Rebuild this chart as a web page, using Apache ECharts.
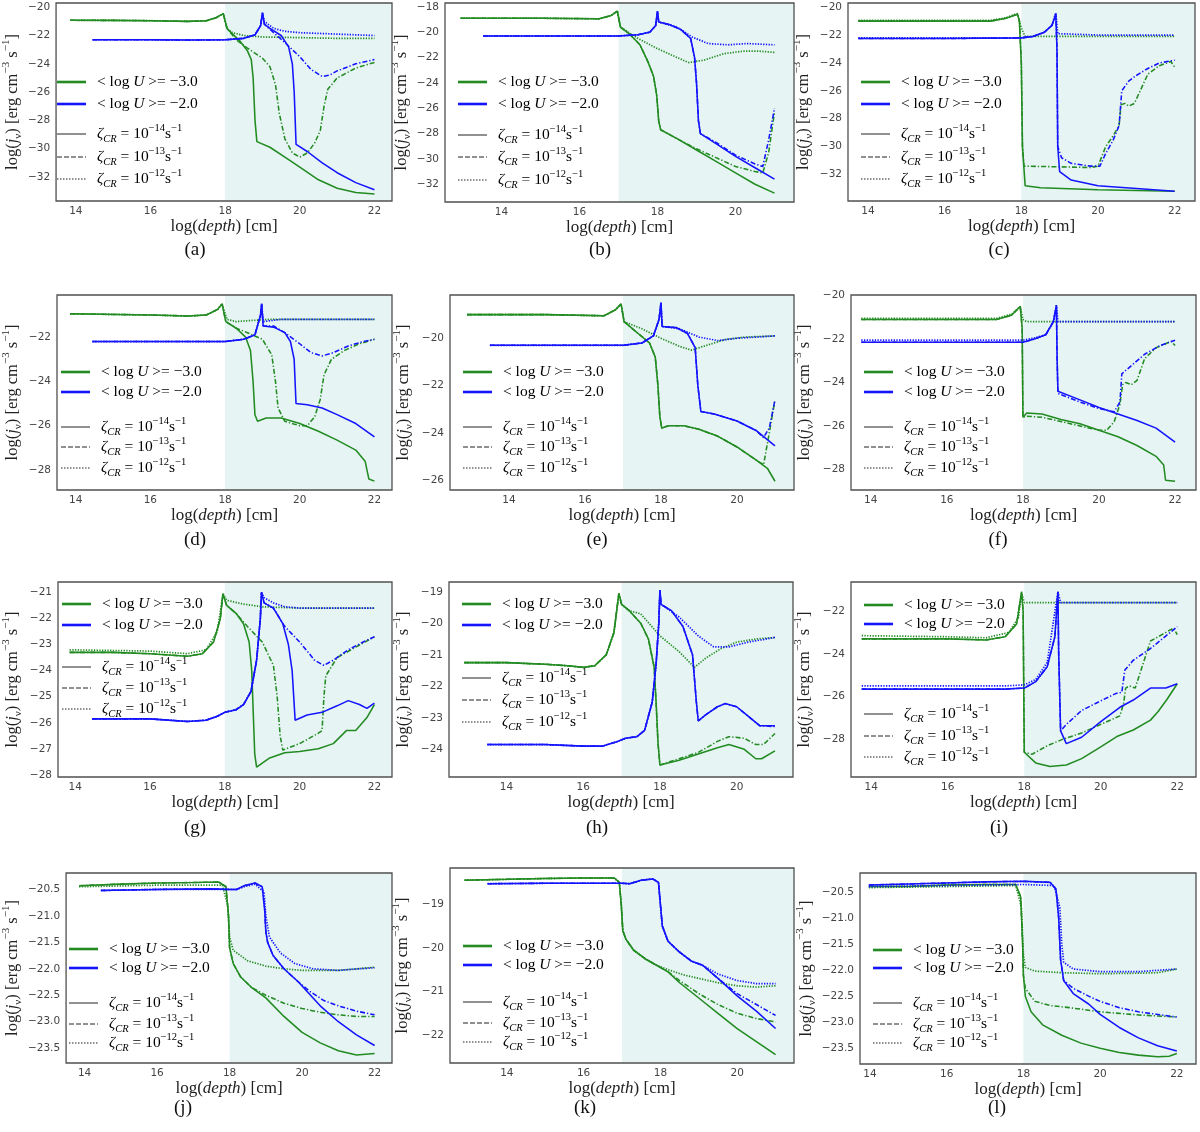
<!DOCTYPE html>
<html><head><meta charset="utf-8">
<script src="https://cdn.jsdelivr.net/npm/echarts@6/dist/echarts.min.js"></script>
<style>html,body{margin:0;padding:0;background:#fff}#c{width:1200px;height:1132px}</style>
</head><body><div id="c"></div><script>
// ---------------- DATA (log depth, log j_nu) ----------------
// panel (a)
const a_green_pre = [[13.85,-20.92],[15,-20.93],[16,-20.95],[17,-21.0],[17.5,-20.95],[17.75,-20.75],[17.95,-20.45],[18.05,-21.5]];
const a_green_solid = a_green_pre.concat([[18.2,-21.9],[18.4,-22.4],[18.6,-23.1],[18.7,-23.7],[18.75,-25],[18.8,-28],[18.85,-29.5],[19.2,-29.9],[19.6,-30.6],[20,-31.3],[20.5,-32.2],[21,-32.8],[21.5,-33.1],[22,-33.2]]);
const a_green_dashdot = a_green_pre.concat([[18.3,-22.3],[18.6,-22.9],[19,-23.6],[19.2,-24.2],[19.35,-25.5],[19.45,-27.5],[19.6,-29.3],[19.8,-30.3],[20,-30.6],[20.2,-30.3],[20.4,-29.6],[20.55,-28.7],[20.65,-27],[20.75,-25.8],[21,-25],[21.5,-24.3],[22,-23.9]]);
const a_green_dotted = a_green_pre.concat([[18.2,-21.8],[18.5,-22.0],[19,-22.1],[20,-22.15],[21,-22.2],[22,-22.2]]);
const a_blue_pre = [[14.45,-22.3],[16,-22.3],[17,-22.32],[18,-22.3],[18.5,-22.2],[18.8,-21.95],[18.95,-21.3],[19.0,-20.4]];
const a_blue_solid = a_blue_pre.concat([[19.05,-21.2],[19.2,-21.5],[19.5,-22.0],[19.7,-22.8],[19.8,-24],[19.85,-26],[19.9,-29.7],[20.2,-30.2],[20.6,-31],[21,-31.7],[21.5,-32.4],[22,-32.9]]);
const a_blue_dashdot = a_blue_pre.concat([[19.05,-21.2],[19.3,-21.8],[19.6,-22.5],[20,-23.5],[20.3,-24.4],[20.6,-24.9],[20.8,-24.8],[21,-24.5],[21.5,-24],[22,-23.7]]);
const a_blue_dotted = a_blue_pre.concat([[19.05,-21.0],[19.3,-21.5],[19.6,-21.7],[20,-21.8],[21,-21.9],[22,-22.0]]);
// panel (b)
const b_green_pre = [[12.95,-18.9],[15,-18.9],[16.5,-18.95],[16.8,-18.7],[16.97,-18.35],[17.05,-19.6]];
const b_green_solid = b_green_pre.concat([[17.3,-20.2],[17.55,-21.0],[17.75,-22.3],[17.9,-23.5],[17.98,-25],[18.03,-27],[18.08,-27.7],[18.5,-28.4],[19,-29.3],[19.5,-30.2],[20,-31.1],[20.5,-32.0],[21,-32.7]]);
const b_green_dashdot = b_green_pre.concat([[17.3,-20.2],[17.55,-21.0],[17.75,-22.3],[17.9,-23.5],[17.98,-25],[18.03,-27],[18.08,-27.7],[18.5,-28.4],[19,-29.2],[19.5,-29.9],[20,-30.6],[20.5,-31.0],[20.7,-31.1],[20.85,-29.5],[21,-26.3]]);
const b_green_dotted = b_green_pre.concat([[17.5,-20.5],[18,-21.3],[18.5,-22.0],[18.8,-22.4],[19.2,-22.2],[19.7,-21.7],[20.2,-21.5],[20.6,-21.5],[21,-21.6]]);
const b_blue_pre = [[13.53,-20.3],[16,-20.3],[17,-20.3],[17.5,-20.2],[17.8,-20.0],[17.95,-19.5],[18.0,-18.35],[18.03,-19.2]];
const b_blue_solid = b_blue_pre.concat([[18.3,-19.4],[18.6,-19.8],[18.85,-20.5],[18.95,-22],[19.0,-24],[19.05,-27],[19.1,-28.0],[19.5,-28.8],[20,-29.8],[20.5,-30.7],[21,-31.6]]);
const b_blue_dashdot = b_blue_pre.concat([[18.3,-19.4],[18.6,-19.8],[18.85,-20.5],[18.95,-22],[19.0,-24],[19.05,-27],[19.1,-28.0],[19.5,-28.7],[20,-29.7],[20.5,-30.4],[20.7,-30.6],[20.85,-28.5],[21,-26.0]]);
const b_blue_dotted = b_blue_pre.concat([[18.5,-19.6],[18.9,-20.4],[19.3,-20.9],[19.8,-21.0],[20.3,-20.9],[21,-21.0]]);
// panel (c)
const c_green_pre = [[13.75,-21.0],[16,-21.0],[17.2,-21.0],[17.6,-20.8],[17.9,-20.5],[17.95,-21],[18,-24],[18.03,-30]];
const c_green_solid = c_green_pre.concat([[18.1,-32.8],[18.5,-32.95],[20,-33.1],[21,-33.15],[22,-33.2]]);
const c_green_dashdot = c_green_pre.concat([[18.07,-31.4],[19,-31.45],[19.8,-31.5],[20,-31.4],[20.2,-30.0],[20.4,-29.2],[20.55,-28.5],[20.6,-27.0],[20.7,-26.9],[20.8,-27.1],[20.95,-26.9],[21.1,-26.0],[21.3,-24.8],[21.6,-24.2],[21.9,-23.9],[22,-24.3]]);
const c_green_dotted = [[13.75,-20.95],[16,-20.95],[17.2,-20.95],[17.6,-20.75],[17.9,-20.45],[18.0,-21.5],[18.1,-22.1],[19,-22.1],[20,-22.1],[22,-22.1]];
const c_blue_pre = [[13.75,-22.25],[16,-22.25],[18,-22.2],[18.3,-22.1],[18.6,-21.8],[18.8,-21.3],[18.9,-20.5],[18.93,-23],[18.95,-30]];
const c_blue_solid = c_blue_pre.concat([[19.0,-31.8],[19.3,-32.4],[20,-32.8],[21,-33.0],[22,-33.2]]);
const c_blue_dashdot = c_blue_pre.concat([[19.05,-30.8],[19.3,-31.2],[19.8,-31.4],[20.05,-31.4],[20.2,-30.5],[20.4,-29.5],[20.55,-28.5],[20.62,-26.0],[20.8,-25.3],[21.0,-24.9],[21.3,-24.4],[21.6,-24.0],[22,-23.8]]);
const c_blue_dotted = [[13.75,-22.2],[16,-22.2],[18,-22.2],[18.3,-22.1],[18.6,-21.8],[18.8,-21.3],[18.9,-20.4],[18.95,-21.9],[19.5,-21.95],[20,-22.0],[22,-22.0]];
// panel (d)
const d_green_pre = [[13.85,-20.95],[16,-21.0],[17,-21.05],[17.5,-21.0],[17.8,-20.75],[17.92,-20.5],[18.02,-21.3],[18.3,-21.6]];
const d_green_solid = d_green_pre.concat([[18.55,-22.0],[18.68,-22.6],[18.75,-24],[18.8,-25.5],[18.87,-25.8],[19.1,-25.65],[19.5,-25.65],[20,-25.9],[20.5,-26.25],[21,-26.65],[21.5,-27.1],[21.75,-27.6],[21.85,-28.4],[22,-28.5]]);
const d_green_dashdot = d_green_pre.concat([[18.6,-21.8],[19,-22.1],[19.25,-22.8],[19.35,-24],[19.42,-25.2],[19.6,-25.8],[20,-26.0],[20.2,-26.0],[20.4,-25.6],[20.55,-24.8],[20.65,-23.7],[20.85,-23.0],[21.2,-22.6],[21.6,-22.3],[22,-22.1]]);
const d_green_dotted = [[13.85,-20.95],[16,-21.0],[17,-21.05],[17.5,-21.0],[17.8,-20.75],[17.92,-20.5],[18.05,-21.2],[18.3,-21.3],[18.7,-21.25],[19.2,-21.2],[20,-21.2],[22,-21.2]];
const d_blue_pre = [[14.45,-22.2],[16.7,-22.2],[17.5,-22.2],[18,-22.2],[18.5,-22.1],[18.8,-21.9],[18.95,-21],[18.98,-20.5],[19.02,-21.5]];
const d_blue_solid = d_blue_pre.concat([[19.3,-21.55],[19.6,-21.8],[19.75,-22.2],[19.85,-23],[19.9,-25.0],[20.2,-25.05],[20.6,-25.2],[21,-25.5],[21.5,-25.9],[22,-26.5]]);
const d_blue_dashdot = d_blue_pre.concat([[19.3,-21.5],[19.6,-21.8],[20,-22.3],[20.3,-22.7],[20.6,-22.85],[20.9,-22.7],[21.3,-22.4],[21.7,-22.2],[22,-22.1]]);
const d_blue_dotted = [[14.45,-22.2],[16.7,-22.2],[17.5,-22.2],[18,-22.2],[18.5,-22.1],[18.8,-21.9],[18.95,-21],[18.98,-20.5],[19.02,-21.3],[19.5,-21.2],[20,-21.2],[22,-21.2]];
// panel (e)
const e_green_pre = [[12.9,-19.0],[15,-19.0],[16.5,-19.05],[16.8,-18.8],[16.95,-18.55],[17.03,-19.3]];
const e_green_solid = e_green_pre.concat([[17.4,-19.8],[17.7,-20.2],[17.85,-20.8],[17.92,-22],[17.97,-23.3],[18.02,-23.8],[18.2,-23.7],[18.6,-23.7],[19,-23.85],[19.5,-24.15],[20,-24.6],[20.5,-25.15],[20.8,-25.5],[21,-26.05]]);
const e_green_dashdot = e_green_pre.concat([[17.4,-19.8],[17.7,-20.2],[17.85,-20.8],[17.92,-22],[17.97,-23.3],[18.02,-23.8],[18.2,-23.7],[18.6,-23.7],[19,-23.85],[19.5,-24.15],[20,-24.6],[20.5,-25.15],[20.7,-25.35],[20.85,-24.0],[21,-22.6]]);
const e_green_dotted = e_green_pre.concat([[17.5,-19.6],[18,-20.0],[18.5,-20.35],[18.8,-20.5],[19.2,-20.3],[19.7,-20.05],[20.2,-19.95],[21,-19.9]]);
const e_blue_pre = [[13.5,-20.3],[16,-20.3],[17,-20.3],[17.5,-20.2],[17.8,-19.9],[17.95,-19.2],[18.0,-18.5],[18.03,-19.5]];
const e_blue_solid = e_blue_pre.concat([[18.4,-19.55],[18.7,-19.8],[18.9,-20.4],[18.97,-22],[19.05,-23.1],[19.4,-23.2],[20,-23.5],[20.5,-23.9],[21,-24.55]]);
const e_blue_dashdot = e_blue_pre.concat([[18.4,-19.55],[18.7,-19.8],[18.9,-20.4],[18.97,-22],[19.05,-23.1],[19.4,-23.2],[20,-23.5],[20.5,-23.9],[20.7,-24.2],[20.85,-23.8],[21,-22.6]]);
const e_blue_dotted = e_blue_pre.concat([[18.5,-19.6],[19,-19.95],[19.5,-20.1],[20,-20.0],[21,-19.9]]);
// panel (f)
const f_green_pre = [[13.75,-21.1],[16,-21.1],[17.3,-21.1],[17.7,-20.9],[17.93,-20.5],[17.98,-21.5],[18.0,-25.6]];
const f_green_solid = f_green_pre.concat([[18.1,-25.4],[18.5,-25.45],[19,-25.7],[19.5,-25.9],[20,-26.2],[20.5,-26.5],[21,-26.9],[21.5,-27.4],[21.7,-27.8],[21.75,-28.5],[22,-28.55]]);
const f_green_dashdot = f_green_pre.concat([[18.1,-25.55],[18.5,-25.6],[19,-25.8],[19.5,-26],[20,-26.2],[20.2,-26.2],[20.4,-25.8],[20.55,-25.0],[20.62,-24.1],[20.7,-24.0],[20.85,-24.1],[21,-23.9],[21.2,-22.9],[21.5,-22.4],[21.9,-22.1],[22,-22.3]]);
const f_green_dotted = [[13.75,-21.05],[16,-21.05],[17.3,-21.05],[17.7,-20.85],[17.93,-20.5],[18.0,-21.1],[18.1,-21.2],[19,-21.2],[22,-21.2]];
const f_blue_pre = [[13.75,-22.15],[16.8,-22.15],[18,-22.15],[18.3,-22.0],[18.6,-21.8],[18.8,-21.2],[18.88,-20.45],[18.9,-23]];
const f_blue_solid = f_blue_pre.concat([[18.92,-24.4],[19.5,-24.8],[20,-25.15],[20.5,-25.45],[21,-25.75],[21.5,-26.1],[22,-26.75]]);
const f_blue_dashdot = f_blue_pre.concat([[18.92,-24.5],[19.5,-24.9],[20,-25.2],[20.4,-25.35],[20.55,-24.9],[20.6,-23.6],[20.8,-23.3],[21.2,-22.7],[21.6,-22.3],[22,-22.05]]);
const f_blue_dotted = [[13.75,-22.05],[16.8,-22.05],[18,-22.05],[18.3,-21.95],[18.6,-21.8],[18.8,-21.2],[18.88,-20.45],[18.92,-21.2],[19.5,-21.2],[22,-21.2]];
// panel (g)
const g_green_pre = [[13.85,-23.3],[15,-23.3],[16,-23.35],[17,-23.45],[17.4,-23.35],[17.7,-22.9],[17.88,-22.0],[17.95,-21.05],[18.05,-21.5],[18.3,-21.8]];
const g_green_solid = g_green_pre.concat([[18.5,-22.2],[18.65,-22.9],[18.72,-24],[18.8,-27.2],[18.85,-27.7],[19.2,-27.35],[19.6,-27.15],[20,-27.1],[20.5,-27.0],[20.9,-26.8],[21.25,-26.3],[21.5,-26.3],[21.8,-25.8],[22,-25.3]]);
const g_green_dashdot = g_green_pre.concat([[18.6,-22.3],[19,-22.9],[19.3,-23.8],[19.4,-25],[19.48,-26.5],[19.55,-27.05],[20,-26.8],[20.5,-26.4],[20.6,-26.3],[20.65,-25],[20.7,-24.2],[21,-23.5],[21.5,-23.1],[22,-22.7]]);
const g_green_dotted = [[13.85,-23.2],[16,-23.25],[17,-23.35],[17.5,-23.2],[17.8,-22.5],[17.95,-21.05],[18.05,-21.3],[18.5,-21.45],[19,-21.55],[20,-21.6],[22,-21.6]];
const g_blue_pre = [[14.45,-25.85],[16,-25.85],[17,-25.95],[17.5,-25.9],[17.8,-25.75],[18.0,-25.6],[18.3,-25.5],[18.5,-25.3],[18.7,-24.8],[18.85,-23.6],[18.95,-22],[18.98,-21.0]];
const g_blue_solid = g_blue_pre.concat([[19.05,-21.4],[19.3,-21.6],[19.55,-22.2],[19.7,-23],[19.8,-24],[19.88,-25.9],[20.2,-25.7],[20.6,-25.6],[21,-25.35],[21.3,-25.15],[21.6,-25.3],[21.8,-25.45],[22,-25.25]]);
const g_blue_dashdot = g_blue_pre.concat([[19.05,-21.4],[19.3,-21.6],[19.6,-22.3],[20,-22.9],[20.4,-23.6],[20.65,-23.8],[20.9,-23.6],[21.3,-23.2],[21.7,-22.9],[22,-22.7]]);
const g_blue_dotted = g_blue_pre.concat([[19.05,-21.2],[19.3,-21.4],[19.6,-21.55],[20,-21.6],[22,-21.6]]);
// panel (h)
const h_green_pre = [[12.9,-21.25],[14,-21.25],[15,-21.3],[15.6,-21.35],[16,-21.4],[16.3,-21.35],[16.6,-21.0],[16.8,-20.3],[16.93,-19.05],[17.0,-19.4],[17.2,-19.6]];
const h_green_solid = h_green_pre.concat([[17.5,-20.0],[17.7,-20.5],[17.85,-21.4],[17.9,-22.5],[17.95,-23.8],[18.0,-24.5],[18.5,-24.35],[19,-24.15],[19.5,-23.95],[19.8,-23.85],[20.2,-24.0],[20.5,-24.3],[20.65,-24.3],[21,-24.05]]);
const h_green_dashdot = h_green_pre.concat([[17.5,-20.0],[17.7,-20.5],[17.85,-21.4],[17.9,-22.5],[17.95,-23.8],[18.0,-24.5],[18.5,-24.3],[19,-24.1],[19.5,-23.75],[19.8,-23.6],[20.2,-23.65],[20.5,-23.85],[20.7,-23.85],[21,-23.5]]);
const h_green_dotted = h_green_pre.concat([[17.5,-19.7],[18,-20.4],[18.5,-20.9],[18.9,-21.4],[19.2,-21.1],[19.6,-20.8],[20,-20.6],[20.5,-20.5],[21,-20.45]]);
const h_blue_pre = [[13.5,-23.85],[15,-23.85],[16,-23.9],[16.5,-23.9],[16.9,-23.75],[17.1,-23.65],[17.4,-23.6],[17.6,-23.4],[17.8,-22.5],[17.9,-21.3],[17.97,-20],[18.0,-18.95],[18.03,-19.4]];
const h_blue_solid = h_blue_pre.concat([[18.3,-19.6],[18.6,-20.1],[18.85,-21.0],[18.95,-22.5],[19.0,-23.1],[19.2,-22.9],[19.5,-22.65],[19.7,-22.55],[20,-22.65],[20.3,-22.95],[20.6,-23.25],[21,-23.25]]);
const h_blue_dashdot = h_blue_pre.concat([[18.3,-19.6],[18.6,-20.1],[18.85,-21.0],[18.95,-22.5],[19.0,-23.1],[19.2,-22.9],[19.5,-22.65],[19.7,-22.55],[20,-22.65],[20.3,-22.95],[20.6,-23.25],[21,-23.28]]);
const h_blue_dotted = h_blue_pre.concat([[18.5,-19.8],[19,-20.4],[19.4,-20.75],[19.8,-20.75],[20.3,-20.6],[21,-20.45]]);
// panel (i)
const i_green_pre = [[13.75,-23.3],[16,-23.3],[17,-23.35],[17.5,-23.2],[17.8,-22.6],[17.93,-21.1],[17.97,-22],[18.0,-28.6]];
const i_green_solid = i_green_pre.concat([[18.3,-29.1],[18.67,-29.27],[19.1,-29.2],[19.5,-28.9],[20,-28.35],[20.42,-27.87],[20.85,-27.56],[21.3,-27.1],[21.5,-26.7],[21.72,-26.16],[22,-25.4]]);
const i_green_dashdot = i_green_pre.concat([[18.2,-28.7],[18.6,-28.3],[19,-28.0],[19.5,-27.7],[20,-27.3],[20.5,-26.9],[20.6,-26.3],[20.65,-25.6],[20.75,-25.5],[20.9,-25.6],[21.1,-24.5],[21.3,-23.4],[21.6,-23.1],[21.9,-22.8],[22,-23.1]]);
const i_green_dotted = [[13.75,-23.15],[16,-23.2],[17,-23.25],[17.6,-23.0],[17.85,-22.3],[17.93,-21.15],[18.0,-21.6],[19,-21.6],[22,-21.6]];
const i_blue_pre = [[13.75,-25.65],[16,-25.65],[17.5,-25.65],[18,-25.6],[18.3,-25.3],[18.6,-24.6],[18.8,-23.2],[18.88,-21.1],[18.9,-24],[18.95,-27.6]];
const i_blue_solid = i_blue_pre.concat([[19.1,-28.2],[19.5,-27.9],[20,-27.17],[20.5,-26.5],[20.85,-26.16],[21.3,-25.6],[21.7,-25.6],[22,-25.4]]);
const i_blue_dashdot = i_blue_pre.concat([[19.1,-27.3],[19.5,-26.65],[20,-26.2],[20.4,-25.85],[20.55,-25.8],[20.63,-24.76],[20.85,-24.3],[21.3,-23.75],[22,-22.73]]);
const i_blue_dotted = [[13.75,-25.5],[16,-25.5],[17.5,-25.5],[18.0,-25.45],[18.3,-25.2],[18.6,-24.4],[18.88,-21.1],[18.95,-21.6],[20,-21.6],[22,-21.6]];
// panel (j)
const j_green_pre = [[13.85,-20.43],[15,-20.4],[16,-20.38],[17,-20.37],[17.7,-20.36],[17.9,-20.45],[17.97,-21.0],[18.0,-21.6],[18.1,-21.9],[18.3,-22.15],[18.6,-22.35]];
const j_green_solid = j_green_pre.concat([[19,-22.55],[19.5,-22.9],[20,-23.2],[20.5,-23.4],[21,-23.55],[21.5,-23.63],[22,-23.6]]);
const j_green_dashdot = j_green_pre.concat([[19,-22.5],[19.5,-22.65],[20,-22.75],[20.5,-22.82],[21,-22.87],[21.5,-22.9],[22,-22.9]]);
const j_green_dotted = [[13.85,-20.45],[16,-20.42],[17.8,-20.42],[17.95,-20.8],[18.0,-21.4],[18.1,-21.65],[18.5,-21.85],[19,-21.95],[19.5,-22.0],[20,-22.03],[21,-22.03],[22,-21.97]];
const j_blue_pre = [[14.45,-20.52],[16,-20.5],[17.5,-20.49],[18,-20.5],[18.2,-20.5],[18.4,-20.43],[18.7,-20.38],[18.9,-20.45],[18.97,-20.9],[19.0,-21.3],[19.05,-21.5],[19.2,-21.75],[19.5,-22.0],[19.9,-22.25]];
const j_blue_solid = j_blue_pre.concat([[20.1,-22.4],[20.5,-22.7],[21,-23.0],[21.5,-23.25],[22,-23.45]]);
const j_blue_dashdot = j_blue_pre.concat([[20.2,-22.42],[20.6,-22.6],[21,-22.7],[21.5,-22.8],[22,-22.87]]);
const j_blue_dotted = [[14.45,-20.52],[16,-20.5],[17.5,-20.5],[18.2,-20.5],[18.4,-20.45],[18.7,-20.4],[18.95,-20.55],[19.0,-21.0],[19.1,-21.4],[19.4,-21.7],[19.8,-21.9],[20.3,-22.0],[21,-22.03],[22,-21.98]];
// panel (k)
const k_green_pre = [[12.9,-18.45],[14,-18.43],[15,-18.41],[16,-18.4],[16.8,-18.4],[16.93,-18.5],[16.98,-19.0],[17.02,-19.6],[17.1,-19.8],[17.3,-20.05],[17.6,-20.25],[17.9,-20.4]];
const k_green_solid = k_green_pre.concat([[18.2,-20.55],[18.5,-20.8],[19,-21.15],[19.5,-21.5],[20,-21.85],[20.5,-22.15],[21,-22.45]]);
const k_green_dashdot = k_green_pre.concat([[18.2,-20.55],[18.5,-20.75],[19,-21.05],[19.5,-21.3],[20,-21.5],[20.5,-21.62],[21,-21.7]]);
const k_green_dotted = k_green_pre.concat([[18.2,-20.5],[18.6,-20.62],[19,-20.7],[19.5,-20.8],[20,-20.87],[20.5,-20.9],[21,-20.87]]);
const k_blue_pre = [[13.5,-18.53],[15,-18.52],[16.5,-18.52],[17,-18.52],[17.2,-18.53],[17.5,-18.45],[17.8,-18.42],[17.95,-18.5],[18.0,-19.0],[18.05,-19.5],[18.2,-19.85],[18.5,-20.1],[18.8,-20.3],[19.1,-20.4]];
const k_blue_solid = k_blue_pre.concat([[19.5,-20.7],[20,-21.1],[20.5,-21.45],[21,-21.85]]);
const k_blue_dashdot = k_blue_pre.concat([[19.5,-20.7],[20,-21.05],[20.5,-21.3],[21,-21.55]]);
const k_blue_dotted = k_blue_pre.concat([[19.5,-20.6],[20,-20.75],[20.5,-20.82],[21,-20.82]]);
// panel (l)
const l_green_pre = [[13.97,-20.4],[15,-20.4],[16,-20.37],[17,-20.36],[17.8,-20.36],[17.93,-20.6],[17.98,-21.5],[18.0,-22.1]];
const l_green_solid = l_green_pre.concat([[18.05,-22.5],[18.2,-22.8],[18.5,-23.05],[19,-23.25],[19.5,-23.4],[20,-23.5],[20.5,-23.58],[21,-23.63],[21.5,-23.66],[21.8,-23.65],[22,-23.6]]);
const l_green_dashdot = l_green_pre.concat([[18.05,-22.35],[18.3,-22.6],[18.7,-22.68],[19.2,-22.72],[20,-22.8],[21,-22.86],[22,-22.9]]);
const l_green_dotted = [[13.97,-20.42],[16,-20.4],[17.8,-20.38],[17.95,-20.8],[18.0,-21.7],[18.05,-21.95],[18.3,-22.02],[19,-22.05],[20,-22.07],[21,-22.06],[21.5,-22.05],[22,-21.98]];
const l_blue_pre = [[13.97,-20.37],[15,-20.35],[16,-20.33],[17,-20.31],[18,-20.3],[18.7,-20.32],[18.85,-20.45],[18.92,-21.0],[18.97,-21.8],[19.05,-22.2]];
const l_blue_solid = l_blue_pre.concat([[19.3,-22.45],[19.7,-22.65],[20,-22.85],[20.5,-23.1],[21,-23.3],[21.5,-23.45],[22,-23.55]]);
const l_blue_dashdot = l_blue_pre.concat([[19.3,-22.35],[19.7,-22.5],[20,-22.6],[20.5,-22.72],[21,-22.8],[21.5,-22.85],[22,-22.9]]);
const l_blue_dotted = [[13.97,-20.4],[16,-20.38],[18,-20.36],[18.8,-20.38],[18.95,-20.8],[19.0,-21.5],[19.05,-21.85],[19.3,-21.98],[20,-22.03],[21,-22.03],[22,-21.98]];

// tick labels
const xTicksWide = [14,16,18,20,22];
const xTicksNarrow = [14,16,18,20];
const yTicks_a = [-32,-30,-28,-26,-24,-22,-20];
const yTicks_b = [-32,-30,-28,-26,-24,-22,-20,-18];
const yTicks_c = [-32,-30,-28,-26,-24,-22,-20];
const yTicks_d = [-28,-26,-24,-22];
const yTicks_e = [-26,-24,-22,-20];
const yTicks_f = [-28,-26,-24,-22,-20];
const yTicks_g = [-28,-27,-26,-25,-24,-23,-22,-21];
const yTicks_h = [-24,-23,-22,-21,-20,-19];
const yTicks_i = [-28,-26,-24,-22];
const yTicks_j = [-23.5,-23.0,-22.5,-22.0,-21.5,-21.0,-20.5];
const yTicks_k = [-22,-21,-20,-19];
const yTicks_l = [-23.5,-23.0,-22.5,-22.0,-21.5,-21.0,-20.5];
const legendLabelsU = ['−3.0','−2.0'];
const legendLabelsZeta = ['−14','−13','−12'];
const panelLabels = ['(a)','(b)','(c)','(d)','(e)','(f)','(g)','(h)','(i)','(j)','(k)','(l)'];

// ---------------- LAYOUT ----------------
const panels = [
 {box:[44,3,392,201], x:[13.47,22.47], y:[-33.7,-19.7], yt:yTicks_a, xt:xTicksWide, shade:18, dec:0, leg:[82,104,134,157,179], cap:[195,250], yt0:14,
  s:[a_green_solid,a_green_dashdot,a_green_dotted,a_blue_solid,a_blue_dashdot,a_blue_dotted]},
 {box:[445,3,794,202], x:[12.55,21.5], y:[-33.4,-17.7], yt:yTicks_b, xt:xTicksNarrow, shade:17, dec:0, leg:[82,104,135,157,180], cap:[600,250], yt0:415,
  s:[b_green_solid,b_green_dashdot,b_green_dotted,b_blue_solid,b_blue_dashdot,b_blue_dotted]},
 {box:[848,3,1195,201], x:[13.48,22.53], y:[-33.9,-19.7], yt:yTicks_c, xt:xTicksWide, shade:18, dec:0, leg:[82,104,134,157,179], cap:[999,250], yt0:815,
  s:[c_green_solid,c_green_dashdot,c_green_dotted,c_blue_solid,c_blue_dashdot,c_blue_dotted]},
 {box:[48,295,392,490], x:[13.5,22.47], y:[-28.9,-20.1], yt:yTicks_d, xt:xTicksWide, shade:18, dec:0, leg:[372,392,427,447,468], cap:[195,540], yt0:15,
  s:[d_green_solid,d_green_dashdot,d_green_dotted,d_blue_solid,d_blue_dashdot,d_blue_dotted]},
 {box:[450,295,794,490], x:[12.45,21.5], y:[-26.42,-18.17], yt:yTicks_e, xt:xTicksNarrow, shade:17, dec:0, leg:[372,392,427,447,468], cap:[597,540], yt0:415,
  s:[e_green_solid,e_green_dashdot,e_green_dotted,e_blue_solid,e_blue_dashdot,e_blue_dotted]},
 {box:[851,295,1196,490], x:[13.48,22.55], y:[-28.95,-19.97], yt:yTicks_f, xt:xTicksWide, shade:18, dec:0, leg:[372,392,427,447,468], cap:[998,540], yt0:816,
  s:[f_green_solid,f_green_dashdot,f_green_dotted,f_blue_solid,f_blue_dashdot,f_blue_dotted]},
 {box:[49,582,392,777], x:[13.54,22.47], y:[-28.08,-20.6], yt:yTicks_g, xt:xTicksWide, shade:18, dec:0, leg:[604,625,667,688,709], cap:[195,828], yt0:15,
  s:[g_green_solid,g_green_dashdot,g_green_dotted,g_blue_solid,g_blue_dashdot,g_blue_dotted]},
 {box:[449,582,793,777], x:[12.5,21.47], y:[-24.88,-18.69], yt:yTicks_h, xt:xTicksNarrow, shade:17, dec:0, leg:[604,625,678,700,722], cap:[597,828], yt0:415,
  s:[h_green_solid,h_green_dashdot,h_green_dotted,h_blue_solid,h_blue_dashdot,h_blue_dotted]},
 {box:[851,582,1196,777], x:[13.47,22.49], y:[-29.76,-20.64], yt:yTicks_i, xt:xTicksWide, shade:18, dec:0, leg:[605,624,714,736,757], cap:[999,828], yt0:816,
  s:[i_green_solid,i_green_dashdot,i_green_dotted,i_blue_solid,i_blue_dashdot,i_blue_dotted]},
 {box:[56,873,392,1063], x:[13.49,22.48], y:[-23.78,-20.19], yt:yTicks_j, xt:xTicksWide, shade:18, dec:1, leg:[949,968,1003,1024,1043], cap:[183,1108], yt0:15,
  s:[j_green_solid,j_green_dashdot,j_green_dotted,j_blue_solid,j_blue_dashdot,j_blue_dotted]},
 {box:[450,868,794,1063], x:[12.52,21.48], y:[-22.64,-18.17], yt:yTicks_k, xt:xTicksNarrow, shade:17, dec:0, leg:[946,965,1002,1023,1042], cap:[585,1108], yt0:414,
  s:[k_green_solid,k_green_dashdot,k_green_dotted,k_blue_solid,k_blue_dashdot,k_blue_dotted]},
 {box:[860,873,1196,1064], x:[13.74,22.5], y:[-23.8,-20.14], yt:yTicks_l, xt:xTicksWide, shade:18, dec:1, leg:[950,968,1003,1024,1043], cap:[997,1108], yt0:818,
  s:[l_green_solid,l_green_dashdot,l_green_dotted,l_blue_solid,l_blue_dashdot,l_blue_dotted]}
];

const GREEN = '#228b22', BLUE = '#1414ff', SHADE = '#e6f4f3';
const DASHDOT = [5, 2, 1.3, 2];
const DOTTED = [1.3, 1.4];
const SERIF = 'Liberation Serif';
const styles = [
  {c:GREEN, t:'solid'},{c:GREEN, t:DASHDOT},{c:GREEN, t:DOTTED},
  {c:BLUE, t:'solid'},{c:BLUE, t:DASHDOT},{c:BLUE, t:DOTTED}
];
const drawOrder = [2,1,0,5,4,3];

function fmtMinus(v, dec) { const s = Math.abs(v).toFixed(dec); return (v < 0 ? '−' : '') + s; }

function richSet(fs, ss) {
  const lh = Math.round(fs * 1.4);
  return {
    n: {fontFamily: SERIF, fontSize: fs, color: '#222', lineHeight: lh},
    i: {fontFamily: SERIF, fontSize: fs, fontStyle: 'italic', color: '#222', lineHeight: lh},
    sup: {fontFamily: SERIF, fontSize: ss, color: '#222', verticalAlign: 'top', lineHeight: lh},
    sub: {fontFamily: SERIF, fontSize: ss, color: '#222', verticalAlign: 'bottom', lineHeight: lh},
    subi: {fontFamily: SERIF, fontSize: ss, fontStyle: 'italic', color: '#222', verticalAlign: 'bottom', lineHeight: lh}
  };
}
const richLegend = richSet(15.5, 10.5);
const richYTitle = richSet(16.5, 11);
const richXTitle = richSet(17, 11);

const grids = [], xAxes = [], yAxes = [], series = [], graphics = [];
panels.forEach((p, k) => {
  const [L, T, R, B] = p.box;
  grids.push({left: L, top: T, width: R - L, height: B - T, show: true, z: 10,
    borderColor: '#505050', borderWidth: 1.3, backgroundColor: 'rgba(0,0,0,0)', containLabel: false});
  xAxes.push({type: 'value', gridIndex: k, min: p.x[0], max: p.x[1],
    name: '{n|log(}{i|depth}{n|) [cm]}', nameLocation: 'middle', nameGap: 9,
    nameTextStyle: {rich: richXTitle},
    axisLine: {show: false}, axisTick: {show: false}, splitLine: {show: false},
    axisLabel: {customValues: p.xt, formatter: v => String(Math.round(v)), margin: 5,
      fontSize: 10.5, color: '#444', fontFamily: 'DejaVu Sans'}});
  yAxes.push({type: 'value', gridIndex: k, min: p.y[0], max: p.y[1],
    name: '{n|log(}{i|j}{sub|ν}{n|) [erg cm}{sup|−3}{n| s}{sup|−1}{n|]}', nameLocation: 'middle',
    nameRotate: 90, nameGap: L - p.yt0, nameTextStyle: {rich: richYTitle},
    axisLine: {show: false}, axisTick: {show: false}, splitLine: {show: false},
    axisLabel: {customValues: p.yt, formatter: v => fmtMinus(v, p.dec), margin: 6,
      fontSize: 10.5, color: '#444', fontFamily: 'DejaVu Sans'}});
  // shaded region
  series.push({type: 'line', xAxisIndex: k, yAxisIndex: k, data: [], z: 1, silent: true,
    markArea: {silent: true, itemStyle: {color: SHADE}, data: [[{xAxis: p.shade}, {xAxis: p.x[1]}]]}});
  drawOrder.forEach(si => {
    series.push({type: 'line', xAxisIndex: k, yAxisIndex: k, data: p.s[si], z: 3,
      showSymbol: false, symbol: 'none', silent: true, animation: false,
      lineStyle: {color: styles[si].c, width: si % 3 === 2 ? 1.7 : 1.55, type: styles[si].t}});
  });
  // legend
  const x0 = L + 13, x1 = x0 + 29, tx = x1 + 11;
  const legLines = [
    {c: GREEN, w: 2.6, d: null}, {c: BLUE, w: 2.6, d: null},
    {c: '#222', w: 1, d: null}, {c: '#222', w: 1, d: [5, 2]}, {c: '#222', w: 1, d: [1.5, 1.5]}
  ];
  const legTexts = [
    '{n|< log }{i|U}{n| >= ' + legendLabelsU[0] + '}',
    '{n|< log }{i|U}{n| >= ' + legendLabelsU[1] + '}',
    '{i|ζ}{subi|CR}{n| = 10}{sup|' + legendLabelsZeta[0] + '}{n|s}{sup|−1}',
    '{i|ζ}{subi|CR}{n| = 10}{sup|' + legendLabelsZeta[1] + '}{n|s}{sup|−1}',
    '{i|ζ}{subi|CR}{n| = 10}{sup|' + legendLabelsZeta[2] + '}{n|s}{sup|−1}'
  ];
  p.leg.forEach((yy, r) => {
    const ls = legLines[r];
    graphics.push({type: 'line', z: 20, silent: true, shape: {x1: x0, y1: yy, x2: x1, y2: yy},
      style: {stroke: ls.c, lineWidth: ls.w, lineDash: ls.d}});
    graphics.push({type: 'text', z: 20, silent: true, x: tx, y: yy,
      style: {text: legTexts[r], rich: richLegend, verticalAlign: 'middle', align: 'left'}});
  });
  graphics.push({type: 'text', z: 20, silent: true, x: p.cap[0], y: p.cap[1],
    style: {text: panelLabels[k], font: '19px "Liberation Serif"', fill: '#111', align: 'center', verticalAlign: 'middle'}});
});

const chart = echarts.init(document.getElementById('c'), null, {renderer: 'canvas'});
chart.setOption({
  animation: false,
  backgroundColor: '#ffffff',
  grid: grids, xAxis: xAxes, yAxis: yAxes, series: series, graphic: graphics
});
</script></body></html>
